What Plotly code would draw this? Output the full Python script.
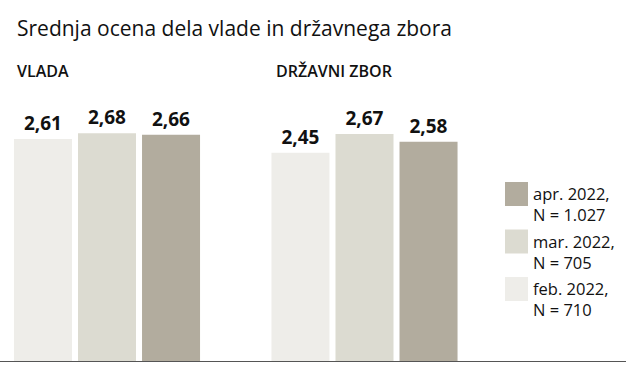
import plotly.graph_objects as go

categories = ["VLADA", "DRŽAVNI ZBOR"]
series_names = ["feb. 2022,<br>N = 710", "mar. 2022,<br>N = 705", "apr. 2022,<br>N = 1.027"]
series_colors = ["#EEEDE9", "#DCDBD1", "#B2AC9E"]
feb_values = [2.61, 2.45]
mar_values = [2.68, 2.67]
apr_values = [2.66, 2.58]
values = [feb_values, mar_values, apr_values]

title_text = "Srednja ocena dela vlade in državnega zbora"
FONT = "Open Sans"

W, H = 626, 374
BOTTOM = 12
PH = H - BOTTOM  # plot area height in px (top margin 0)

fig = go.Figure()
for name, color, vals in zip(series_names, series_colors, values):
    fig.add_trace(go.Bar(
        x=categories, y=vals, name=name,
        marker=dict(color=color, line=dict(width=0)),
        texttemplate="%{y:.2f}", textposition="outside",
        textfont=dict(family=FONT, size=19, color="#111111", weight=700),
        cliponaxis=False, showlegend=False, hoverinfo="skip",
    ))

spacing = 257.5
c0 = 107
fig.update_layout(
    width=W, height=H,
    margin=dict(l=0, r=0, t=0, b=BOTTOM),
    paper_bgcolor="white", plot_bgcolor="white",
    separators=",.",
    barmode="group", bargap=0.254, bargroupgap=0.094,
    font=dict(family=FONT),
    xaxis=dict(range=[-c0 / spacing, (W - c0) / spacing], showticklabels=False,
               showgrid=False, zeroline=False, showline=False, ticks=""),
    yaxis=dict(range=[0, PH / 85.4], visible=False, showgrid=False, zeroline=False),
)


def py(px):
    return 1 - px / PH


def pxx(px):
    return px / W


# baseline
fig.add_shape(type="line", xref="paper", yref="y", x0=0, x1=1, y0=0, y1=0,
              line=dict(color="#555555", width=2))

# title
fig.add_annotation(text=title_text, xref="paper", yref="paper", x=pxx(15), y=py(12),
                   xanchor="left", yanchor="top", showarrow=False,
                   font=dict(family=FONT, size=21, color="#111111"))
# group headers
for cat, xp in zip(categories, [15, 274]):
    fig.add_annotation(text=cat, xref="paper", yref="paper", x=pxx(xp), y=py(58),
                       xanchor="left", yanchor="top", showarrow=False,
                       font=dict(family=FONT, size=16, color="#111111", weight=600))

# legend (reversed order: apr on top)
top0 = 182
step = 47.5
for i, (name, color) in enumerate(zip(series_names[::-1], series_colors[::-1])):
    y0 = top0 + i * step
    fig.add_shape(type="rect", xref="paper", yref="paper",
                  x0=pxx(505), x1=pxx(528), y0=py(y0), y1=py(y0 + 24),
                  line=dict(width=0), fillcolor=color)
    fig.add_annotation(text=name, xref="paper", yref="paper", x=pxx(531), y=py(y0 - 2),
                       xanchor="left", yanchor="top", align="left", showarrow=False,
                       font=dict(family=FONT, size=16.5, color="#111111"))

fig.write_html("out.html", config={"displayModeBar": False, "staticPlot": True},
               post_script="document.body.style.margin='0';document.body.style.overflow='hidden';")
